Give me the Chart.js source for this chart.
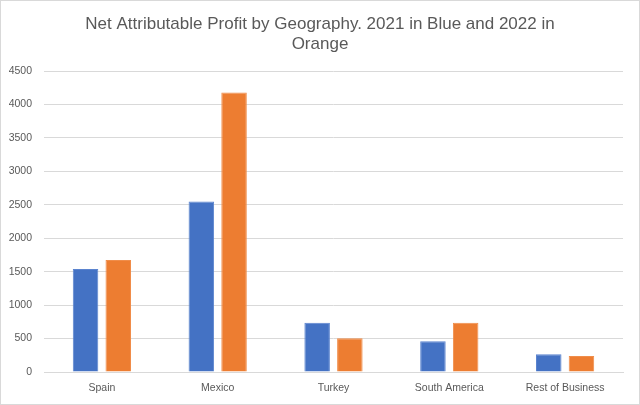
<!DOCTYPE html>
<html lang="en">
<head>
  <meta charset="UTF-8" />
  <title>Net Attributable Profit by Geography</title>
  <script src="https://cdn.jsdelivr.net/npm/chart.js"></script>
  <style>
    body { margin: 0; background: #fff; }
    #wrap { width: 640px; height: 405px; }
  </style>
</head>
<body>
  <div id="wrap"><canvas id="profitChart" width="640" height="405"></canvas></div>

  <script>
    const regions = ['Spain', 'Mexico', 'Turkey', 'South America', 'Rest of Business'];
    const profit2021 = [1540, 2550, 735, 460, 265];
    const profit2022 = [1675, 4180, 505, 735, 240];
    const titleLines = ['Net Attributable Profit by Geography. 2021 in Blue and 2022 in', 'Orange'];

    // thin grey frame like the Excel chart area
    const frame = {
      id: 'frame',
      afterDraw(chart) {
        const c = chart.ctx;
        c.save();
        c.strokeStyle = '#d9d9d9';
        c.lineWidth = 1;
        c.strokeRect(0.5, 0.5, chart.width - 1, chart.height - 1);
        c.restore();
      }
    };

    const tickFont = { family: "'Liberation Sans', Arial, sans-serif", size: 10.5 };

    const ctx = document.getElementById('profitChart').getContext('2d');
    new Chart(ctx, {
      type: 'bar',
      data: {
        labels: regions,
        datasets: [
          { label: '2021', data: profit2021, backgroundColor: '#4472C4', borderColor: '#5b84cf', borderWidth: 1 },
          { label: '2022', data: profit2022, backgroundColor: '#ED7D31', borderColor: '#f08d4a', borderWidth: 1 }
        ]
      },
      options: {
        responsive: false,
        animation: false,
        layout: { padding: { left: 8.5, right: 8.5, top: 0, bottom: 0 } },
        datasets: { bar: { categoryPercentage: 0.565, barPercentage: 0.78 } },
        plugins: {
          legend: { display: false },
          tooltip: { enabled: false },
          title: {
            display: true,
            text: titleLines,
            color: '#595959',
            font: { family: "'Liberation Sans', Arial, sans-serif", size: 17, weight: 'normal', lineHeight: 1.15 },
            padding: { top: 14.5, bottom: 17.5 }
          }
        },
        scales: {
          x: {
            afterFit(scale) { scale.height = 33; },
            grid: { display: false, drawTicks: false },
            border: { color: '#d9d9d9' },
            ticks: { color: '#595959', font: tickFont, padding: 10, maxRotation: 0 }
          },
          y: {
            min: 0,
            max: 4500,
            afterFit(scale) { scale.width = 35.5; },
            grid: { color: '#d9d9d9', drawTicks: false },
            border: { display: false },
            ticks: { stepSize: 500, color: '#595959', font: tickFont, padding: 12, callback: v => String(v) }
          },
          // empty spacer on the right so the title centres on the whole canvas
          spacer: {
            position: 'right',
            min: 0,
            max: 4500,
            afterFit(scale) { scale.width = 8.5; },
            grid: { display: false, drawTicks: false },
            border: { display: false },
            ticks: { display: false }
          }
        }
      },
      plugins: [frame]
    });
  </script>
</body>
</html>
